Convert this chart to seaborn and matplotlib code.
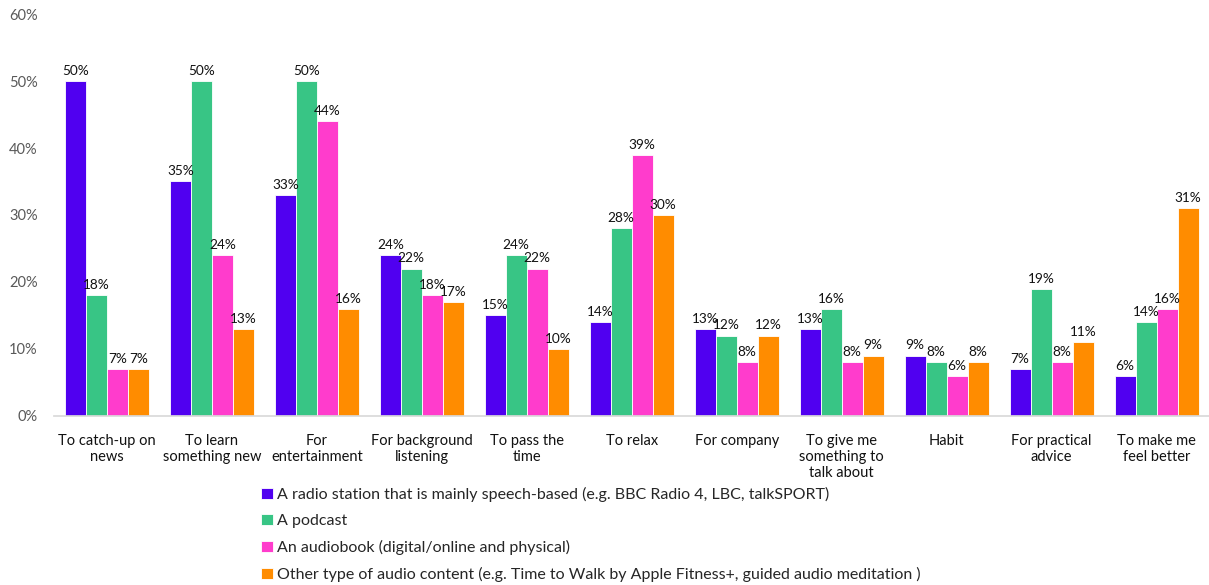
import seaborn as sns
import matplotlib.pyplot as plt
import pandas as pd

sns.set_theme(style="white")
plt.rcParams['font.family'] = ['Lato', 'DejaVu Sans']

categories = ["To catch-up on\nnews", "To learn\nsomething new", "For\nentertainment",
              "For background\nlistening", "To pass the\ntime", "To relax", "For company",
              "To give me\nsomething to\ntalk about", "Habit", "For practical\nadvice",
              "To make me\nfeel better"]
series = ["A radio station that is mainly speech-based (e.g. BBC Radio 4, LBC, talkSPORT)",
          "A podcast",
          "An audiobook (digital/online and physical)",
          "Other type of audio content (e.g. Time to Walk by Apple Fitness+, guided audio meditation )"]
radio = [50, 35, 33, 24, 15, 14, 13, 13, 9, 7, 6]
podcast = [18, 50, 50, 22, 24, 28, 12, 16, 8, 19, 14]
audiobook = [7, 24, 44, 18, 22, 39, 8, 8, 6, 8, 16]
other = [7, 13, 16, 17, 10, 30, 12, 9, 8, 11, 31]
colors = ["#5000F0", "#38C585", "#FF3CCC", "#FF8C00"]

rows = []
for name, vals in zip(series, [radio, podcast, audiobook, other]):
    for c, v in zip(categories, vals):
        rows.append({"reason": c, "source": name, "pct": v})
df = pd.DataFrame(rows)

fig = plt.figure(figsize=(12.09, 5.85), dpi=100)
ax = fig.add_axes([0.045, 0.289, 0.955, 0.687])

sns.barplot(data=df, x="reason", y="pct", hue="source", order=categories,
            hue_order=series, palette=colors, width=0.8, saturation=1,
            edgecolor="white", linewidth=0.6, ax=ax)

for cont in ax.containers:
    ax.bar_label(cont, fmt="{:.0f}%", padding=3, fontsize=9.8, color="#111111")

ax.set_ylim(0, 60)
ax.set_yticks(range(0, 61, 10))
ax.set_yticklabels([f"{t}%" for t in range(0, 61, 10)], color="#595959", fontsize=10.5)
ax.tick_params(axis="x", labelsize=10.5, colors="#111111", pad=13, length=0)
ax.tick_params(axis="y", pad=12, length=0)
ax.set_xlabel("")
ax.set_ylabel("")
for s in ["top", "right", "left"]:
    ax.spines[s].set_visible(False)
ax.spines["bottom"].set_color("#D9D9D9")

handles, labels = ax.get_legend_handles_labels()
ax.legend_.remove()
fig.legend(handles, labels, loc="upper left", bbox_to_anchor=(0.211, 0.179),
           frameon=False, fontsize=11.5, handlelength=0.7, handleheight=0.7,
           handletextpad=0.3, labelspacing=0.76, borderaxespad=0)

fig.savefig("out.png", dpi=100)
